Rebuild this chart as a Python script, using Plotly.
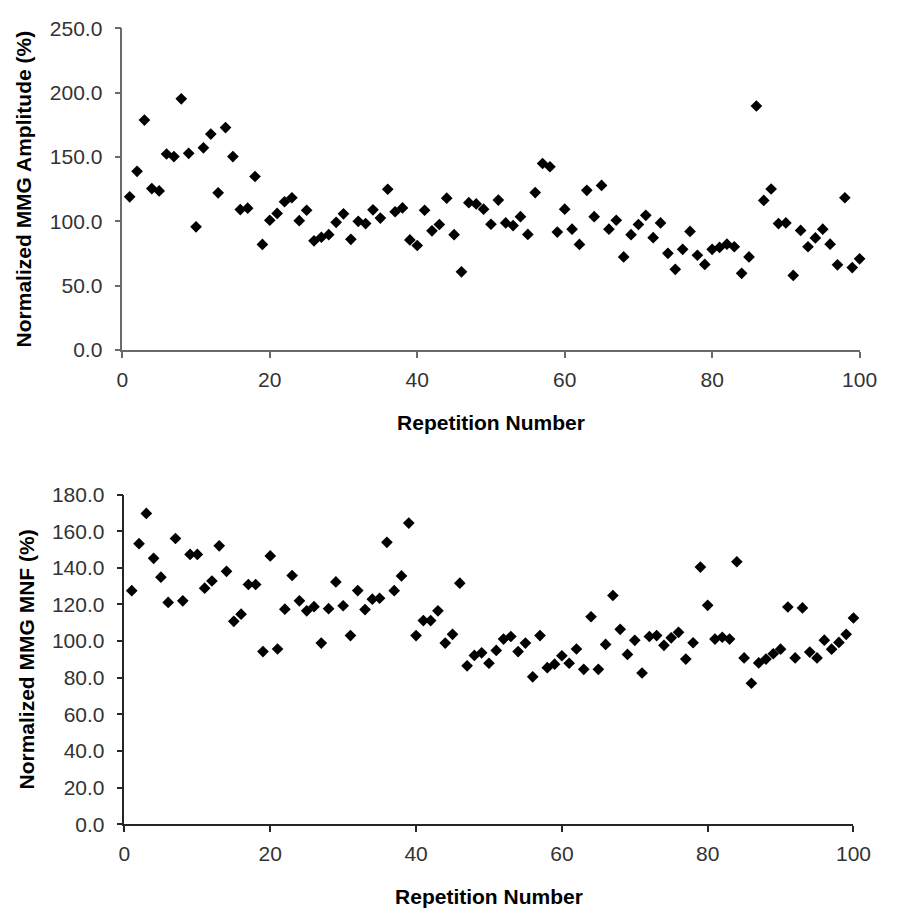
import plotly.graph_objects as go

# ---- data ----
repetitions = list(range(1, 101))

mmg_amplitude = [
    119.0, 138.8, 178.7, 125.4, 123.6, 152.3, 150.3, 195.2, 152.8, 95.7,
    157.1, 167.8, 122.1, 172.8, 150.3, 109.1, 110.2, 134.8, 82.0, 100.8,
    106.1, 115.2, 118.3, 100.5, 108.6, 84.8, 87.6, 89.6, 99.2, 105.8,
    86.0, 100.0, 98.2, 108.9, 102.5, 124.9, 107.4, 110.4, 85.5, 81.2,
    108.6, 92.6, 97.5, 118.0, 89.6, 60.7, 114.5, 113.5, 109.4, 97.7,
    116.5, 98.7, 96.7, 103.6, 89.8, 122.3, 144.9, 142.4, 91.6, 109.4,
    93.9, 82.0, 124.1, 103.6, 127.9, 93.9, 100.8, 72.3, 89.6, 97.5,
    104.6, 87.3, 98.7, 75.1, 62.7, 78.2, 92.1, 73.6, 66.5, 78.2,
    79.7, 82.2, 80.2, 59.6, 72.3, 189.6, 116.2, 125.1, 98.2, 98.7,
    57.9, 92.9, 80.2, 87.1, 93.9, 82.2, 66.2, 118.3, 64.0, 70.8,
]

mmg_mnf = [
    127.5, 153.2, 169.7, 145.2, 134.9, 121.1, 156.0, 122.0, 147.3, 147.3,
    128.9, 132.8, 152.0, 138.1, 110.8, 114.7, 130.9, 130.9, 94.3, 146.5,
    95.7, 117.4, 135.8, 122.0, 116.5, 118.8, 98.9, 117.7, 132.3, 119.3,
    103.0, 127.6, 117.2, 122.9, 123.4, 153.9, 127.5, 135.6, 164.4, 103.0,
    111.2, 111.2, 116.5, 98.9, 103.7, 131.6, 86.5, 92.2, 93.6, 87.9,
    94.9, 101.1, 102.5, 94.3, 98.9, 80.5, 103.0, 85.5, 87.4, 92.0,
    87.9, 95.7, 84.6, 113.3, 84.6, 98.2, 124.9, 106.4, 92.7, 100.4,
    82.6, 102.5, 103.0, 97.7, 101.8, 104.8, 90.2, 99.1, 140.4, 119.5,
    101.1, 102.1, 101.1, 143.3, 90.8, 77.0, 88.1, 90.2, 93.1, 95.6,
    118.6, 90.8, 118.1, 94.0, 90.8, 100.5, 95.6, 99.3, 103.7, 112.6,
]

x_title = "Repetition Number"
y_title_top = "Normalized MMG Amplitude (%)"
y_title_bottom = "Normalized MMG MNF (%)"
x_ticks = [0, 20, 40, 60, 80, 100]
y_ticks_top = [0, 50, 100, 150, 200, 250]
y_ticks_bottom = [0, 20, 40, 60, 80, 100, 120, 140, 160, 180]

# ---- figure ----
W, H = 900, 913
FONT = "Liberation Sans, Arial, sans-serif"
tick_font = dict(family=FONT, size=21, color="#333333")
title_font = dict(family=FONT, size=21, color="#000000")

marker = dict(symbol="diamond", size=9, color="#000000", line=dict(width=0))

fig = go.Figure()
fig.add_trace(go.Scatter(x=repetitions, y=mmg_amplitude, mode="markers",
                         marker=marker, xaxis="x", yaxis="y", showlegend=False,
                         cliponaxis=False))
fig.add_trace(go.Scatter(x=repetitions, y=mmg_mnf, mode="markers",
                         marker=marker, xaxis="x2", yaxis="y2", showlegend=False,
                         cliponaxis=False))


def xa(domain, anchor, color):
    return dict(domain=domain, anchor=anchor, range=[0, 100], tickmode="array",
                tickvals=x_ticks, ticktext=[str(v) for v in x_ticks],
                showgrid=False, zeroline=False, showline=True, linecolor=color,
                linewidth=1.5, ticks="outside", ticklen=6, tickwidth=1.5,
                tickcolor=color, tickfont=tick_font, ticklabelstandoff=4,
                title=dict(text="<b>" + x_title + "</b>", font=title_font, standoff=25))


def ya(domain, anchor, rng, vals, title, color):
    return dict(domain=domain, anchor=anchor, range=rng, tickmode="array",
                tickvals=vals, ticktext=["%.1f" % v for v in vals],
                showgrid=False, zeroline=False, showline=True, linecolor=color,
                linewidth=1.5, ticks="outside", ticklen=6, tickwidth=1.5,
                tickcolor=color, tickfont=tick_font, ticklabelstandoff=8,
                title=dict(text="<b>" + title + "</b>", font=title_font, standoff=12))


fig.update_layout(
    width=W, height=H, autosize=False,
    margin=dict(l=0, r=0, t=0, b=0),
    paper_bgcolor="white", plot_bgcolor="white",
    xaxis=xa([119.5 / W, 877 / W], "y", "#6a6a6a"),
    yaxis=ya([1 - 346.7 / H, 1 - 16.7 / H], "x", [0, 250], y_ticks_top, y_title_top, "#6a6a6a"),
    xaxis2=xa([121.7 / W, 870.7 / W], "y2", "#262626"),
    yaxis2=ya([1 - 833.3 / H, 1 - 495 / H], "x2", [0, 180], y_ticks_bottom, y_title_bottom, "#262626"),
)

fig.write_html("out.html", config={"displayModeBar": False},
               post_script="document.body.style.margin='0';document.body.style.overflow='hidden';")
